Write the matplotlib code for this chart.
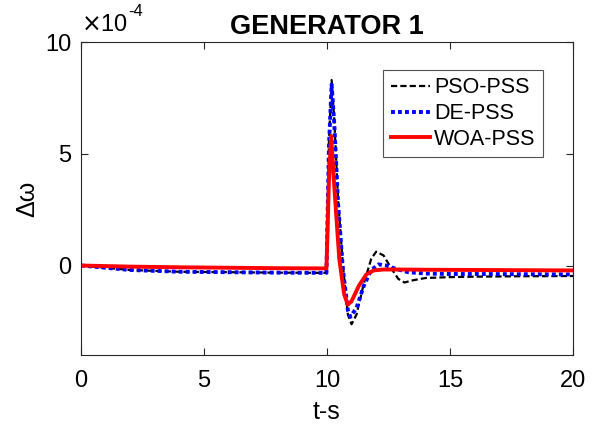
import matplotlib
matplotlib.use("Agg")
import matplotlib.pyplot as plt

plt.rcParams['font.family'] = ['Liberation Sans', 'DejaVu Sans']

# values in units of 1e-4
t_pso = [0, 1, 2, 4, 6, 8, 9.98, 10.08, 10.19, 10.3, 10.45, 10.65, 10.85, 11.0, 11.2, 11.5, 11.8, 12.0, 12.3, 12.6, 12.9, 13.15, 13.5, 14, 15, 16, 18, 20]
pso = [0, -0.1, -0.2, -0.28, -0.3, -0.32, -0.33, 5.5, 8.3, 6.5, 3.0, 0.0, -2.2, -2.63, -2.2, -0.8, 0.3, 0.62, 0.45, -0.1, -0.6, -0.76, -0.66, -0.56, -0.52, -0.5, -0.48, -0.47]

t_de = [0, 1, 2, 4, 6, 8, 9.98, 10.08, 10.19, 10.3, 10.45, 10.65, 10.85, 10.95, 11.2, 11.5, 11.8, 12.1, 12.4, 12.8, 13.3, 14, 15, 16, 18, 20]
de = [0, -0.1, -0.2, -0.28, -0.3, -0.32, -0.33, 5.3, 8.1, 6.3, 2.8, -0.2, -2.0, -2.3, -1.9, -0.9, -0.2, 0.05, 0.0, -0.15, -0.3, -0.36, -0.38, -0.38, -0.39, -0.4]

t_woa = [0, 2, 4, 6, 8, 9.98, 10.08, 10.17, 10.3, 10.5, 10.7, 10.85, 11.0, 11.3, 11.6, 11.9, 12.3, 13, 14, 16, 18, 20]
woa = [0, -0.05, -0.08, -0.1, -0.12, -0.13, 3.8, 5.8, 3.5, 0.3, -1.3, -1.75, -1.6, -0.9, -0.4, -0.22, -0.18, -0.18, -0.19, -0.2, -0.21, -0.22]

labels = ['PSO-PSS', 'DE-PSS', 'WOA-PSS']
x_ticks = [0, 5, 10, 15, 20]
y_ticks = [0, 5, 10]

fig = plt.figure(figsize=(5.95, 4.25), dpi=100)
ax = fig.add_axes([0.136, 0.165, 0.827, 0.736])

ax.plot(t_pso, pso, color='black', linestyle=(0, (2.8, 1.4)), linewidth=1.6, label=labels[0])
ax.plot(t_de, de, color='#0000ff', linestyle=(0, (1, 0.8)), linewidth=2.8, label=labels[1])
ax.plot(t_woa, woa, color='#ff0000', linestyle='-', linewidth=2.8, label=labels[2])

ax.set_xlim(0, 20)
ax.set_ylim(-4, 10)
ax.set_xticks(x_ticks)
ax.set_yticks(y_ticks)
ax.tick_params(direction='in', top=True, right=True, labelsize=17, length=5, color='#262626')
ax.tick_params(axis='x', pad=11)
ax.tick_params(axis='y', pad=7)
for s in ax.spines.values():
    s.set_color('#262626')
    s.set_linewidth(0.8)

ax.set_xlabel('t-s', fontsize=18, labelpad=6)
ax.set_ylabel('Δω', fontsize=18, labelpad=4)
ax.set_title('GENERATOR 1', fontsize=19.5, fontweight='bold', pad=6)
ax.text(0.0, 1.02, r'$\times$10', transform=ax.transAxes, fontsize=17, ha='left', va='bottom')
ax.text(0.0955, 1.075, '-4', transform=ax.transAxes, fontsize=12, ha='left', va='bottom')

leg = ax.legend(loc='upper right', bbox_to_anchor=(0.939, 0.911), borderaxespad=0, fontsize=15.5,
                frameon=True, fancybox=False, edgecolor='#262626', handlelength=1.8,
                handletextpad=0.2, borderpad=0.35, labelspacing=0.22)
leg.get_frame().set_linewidth(0.8)

fig.savefig('out.png', dpi=100)
